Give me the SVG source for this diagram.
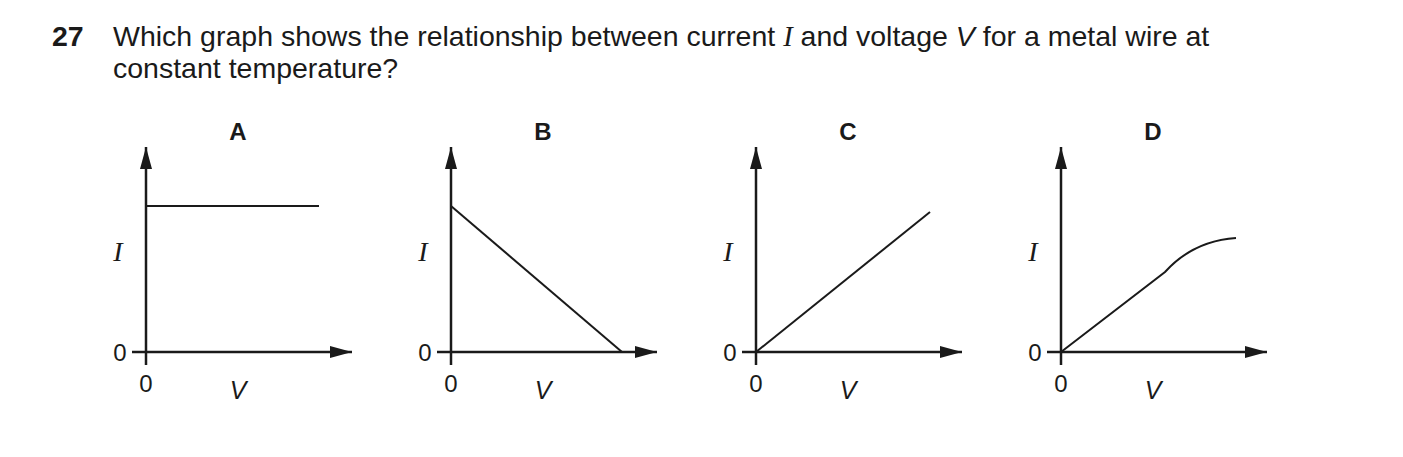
<svg xmlns="http://www.w3.org/2000/svg" width="1403" height="457" viewBox="0 0 1403 457">
<style>
text{font-family:"Liberation Sans",Arial,sans-serif;fill:#1a1a1a}
.q{font-size:28.5px}
.l{font-size:24px;font-weight:bold;text-anchor:middle}
.n{font-size:24px;text-anchor:middle}
.i{font-family:"Liberation Serif","Times New Roman",serif;font-style:italic;font-size:28px;text-anchor:middle}
.v{font-style:italic;font-size:25px;text-anchor:middle}
.ax{stroke:#1a1a1a;stroke-width:2.5;fill:none}
.g{stroke:#1a1a1a;stroke-width:2;fill:none}
</style>
<defs>
<marker id="ah" viewBox="0 0 22 12" refX="22" refY="6" markerWidth="22" markerHeight="12" markerUnits="userSpaceOnUse" orient="auto"><path d="M0,0L22,6L0,12Z" fill="#1a1a1a"/></marker>
<g id="axes">
<line class="ax" x1="0" y1="13" x2="0" y2="-205" marker-end="url(#ah)"/>
<line class="ax" x1="-14" y1="0" x2="206" y2="0" marker-end="url(#ah)"/>
<text class="n" x="-26" y="9">0</text>
<text class="n" x="0" y="40">0</text>
<text class="i" x="-28" y="-91">I</text>
<text class="v" x="92" y="47">V</text>
</g>
</defs>
<text class="q" x="52" y="46" font-weight="bold" font-size="27">27</text>
<text class="q" x="113" y="46">Which graph shows the relationship between current <tspan font-family="Liberation Serif,serif" font-style="italic">I</tspan> and voltage <tspan font-style="italic">V</tspan> for a metal wire at</text>
<text class="q" x="113" y="78">constant temperature?</text>
<g id="graphA" transform="translate(146,352)">
<text class="l" x="92" y="-212">A</text>
<use href="#axes"/>
<line class="g" x1="0" y1="-146" x2="173" y2="-146"/>
</g>
<g id="graphB" transform="translate(451,352)">
<text class="l" x="92" y="-212">B</text>
<use href="#axes"/>
<line class="g" x1="0" y1="-146" x2="171" y2="0"/>
</g>
<g id="graphC" transform="translate(756,352)">
<text class="l" x="92" y="-212">C</text>
<use href="#axes"/>
<line class="g" x1="0" y1="0" x2="174" y2="-140"/>
</g>
<g id="graphD" transform="translate(1061,352)">
<text class="l" x="92" y="-212">D</text>
<use href="#axes"/>
<path class="g" d="M0,0L104,-80Q132,-111 175,-114"/>
</g>
<g id="connectors"/>
</svg>
